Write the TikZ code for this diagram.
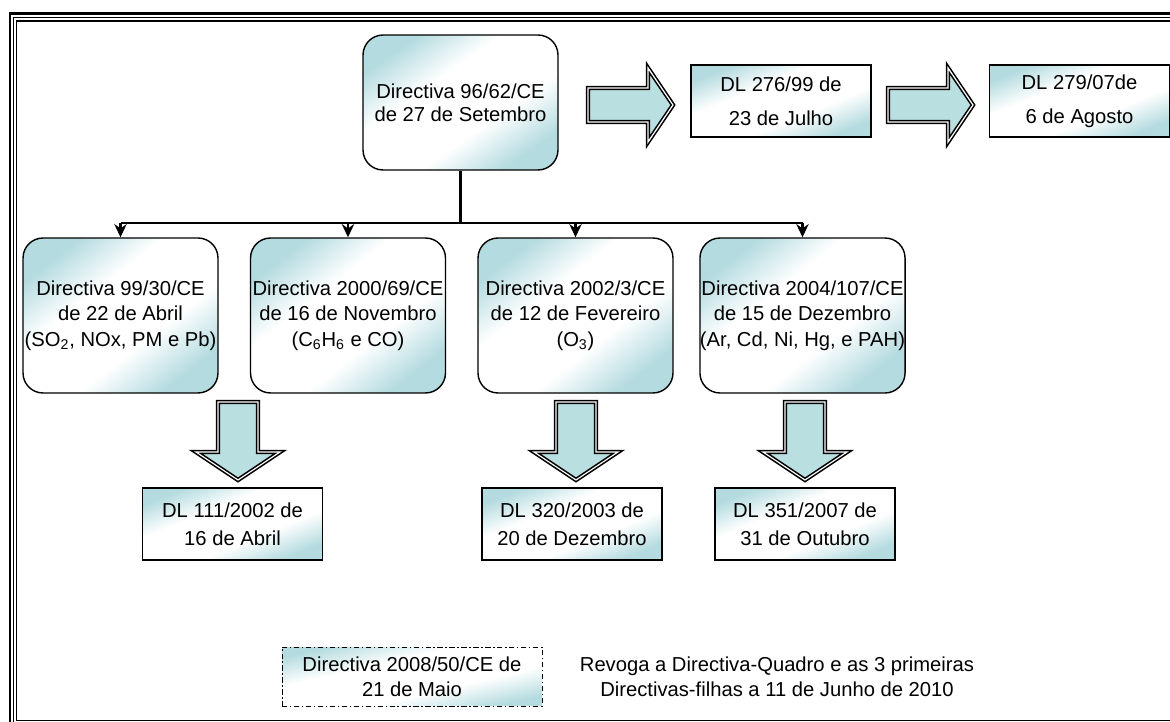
\documentclass[tikz,border=0pt]{standalone}
\usepackage{fontspec}
\setmainfont{Liberation Sans}
\usepackage{xcolor}
\usepackage{tikz}
\usetikzlibrary{positioning, arrows.meta}

\definecolor{boxteal}{RGB}{180,219,223}
\definecolor{arrowteal}{RGB}{186,223,225}
\newcommand{\diagfont}{\fontsize{11.5}{13.2}\selectfont}
\pgfdeclareverticalshading{tealdiag}{100bp}{color(0bp)=(boxteal); color(25bp)=(boxteal); color(40bp)=(white); color(60bp)=(white); color(75bp)=(boxteal); color(100bp)=(boxteal)}

\begin{document}
\begin{tikzpicture}[
    x=0.02cm, y=-0.02cm,
    tealshade/.style={shading=tealdiag, shading angle=#1},
    dirbox/.style={rectangle, rounded corners=0.4cm, draw, line width=0.8pt, align=center, inner sep=0pt, font=\diagfont},
    dlbox/.style={rectangle, draw, line width=0.8pt, tealshade=22, align=center, inner sep=0pt, font=\diagfont, minimum width=3.6cm, minimum height=1.44cm},
    newbox/.style={rectangle, draw, line width=0.5pt, dash pattern=on 3pt off 1.5pt on 0.8pt off 1.5pt, tealshade=13, align=center, inner sep=0pt, font=\diagfont},
    bigarrow/.style={draw, line width=0.9pt, double=white, double distance=0.7pt, fill=arrowteal, line join=miter},
    tree/.style={line width=1.4pt},
    branch/.style={tree, -{Stealth[length=7.5pt, width=7pt]}}
]
\useasboundingbox (0,0) rectangle (1170,722);

% frame
\begin{scope}
\clip (0,0) rectangle (1170,722);
\draw[line width=1.7pt] (10,13.5) rectangle (1190,740);
\draw[line width=0.6pt] (13.5,17.3) rectangle (1186,735);
\draw[line width=1pt] (16.5,21) rectangle (1182,720.5);
\end{scope}

% framework directive and its transpositions
\node[dirbox, tealshade=35, minimum width=3.9cm, minimum height=2.7cm] (dir96) at (460.5,102.5) {Directiva 96/62/CE\\de 27 de Setembro};
\node[dlbox] (dl276) at (781,101) {DL 276/99 de\\[6pt]23 de Julho};
\node[dlbox] (dl279) at (1079.5,101) {DL 279/07de\\[6pt]6 de Agosto};

\draw[bigarrow] (588,88) -- (648,88) -- (648,68) -- (673,105) -- (648,142) -- (648,122) -- (588,122) -- cycle;
\draw[bigarrow] (888,88) -- (948,88) -- (948,68) -- (973,105) -- (948,142) -- (948,122) -- (888,122) -- cycle;

% daughter directives
\node[dirbox, tealshade=38, minimum width=3.9cm, minimum height=3.1cm] (dir99) at (120.5,315.5) {Directiva 99/30/CE\\[1.2pt]de 22 de Abril\\[1.2pt](SO\textsubscript{2}, NOx, PM e Pb)};
\node[dirbox, tealshade=38, minimum width=3.9cm, minimum height=3.1cm] (dir2000) at (348,315.5) {Directiva 2000/69/CE\\[1.2pt]de 16 de Novembro\\[1.2pt](C\textsubscript{6}H\textsubscript{6} e CO)};
\node[dirbox, tealshade=38, minimum width=3.9cm, minimum height=3.1cm] (dir2002) at (575.5,315.5) {Directiva 2002/3/CE\\[1.2pt]de 12 de Fevereiro\\[1.2pt](O\textsubscript{3})};
\node[dirbox, tealshade=38, minimum width=3.9cm, minimum height=3.1cm] (dir2004) at (802.5,315.5) {Directiva 2004/107/CE\\[1.2pt]de 15 de Dezembro\\[1.2pt](Ar, Cd, Ni, Hg, e PAH)};

\coordinate (bar) at (460.5,223);
\draw[tree] (dir96.south) -- (bar);
\draw[tree] (dir99.north |- bar) -- (dir2004.north |- bar);
\draw[branch] (dir99.north |- bar) -- (dir99.north);
\draw[branch] (dir2000.north |- bar) -- (dir2000.north);
\draw[branch] (dir2002.north |- bar) -- (dir2002.north);
\draw[branch] (dir2004.north |- bar) -- (dir2004.north);

% transpositions of the daughter directives
\draw[bigarrow] (218,402) -- (258,402) -- (258,452) -- (280,452) -- (238,480) -- (196,452) -- (218,452) -- cycle;
\draw[bigarrow] (556,402) -- (596,402) -- (596,452) -- (618,452) -- (576,480) -- (534,452) -- (556,452) -- cycle;
\draw[bigarrow] (785,402) -- (825,402) -- (825,452) -- (847,452) -- (805,480) -- (763,452) -- (785,452) -- cycle;

\node[dlbox] (dl111) at (232.5,524) {DL 111/2002 de\\[2.8pt]16 de Abril};
\node[dlbox] (dl320) at (572,524) {DL 320/2003 de\\[2.8pt]20 de Dezembro};
\node[dlbox] (dl351) at (805,524) {DL 351/2007 de\\[2.8pt]31 de Outubro};

% new directive
\node[newbox, minimum width=5.2cm, minimum height=1.18cm] (dir2008) at (412,676.5) {Directiva 2008/50/CE de\\[1pt]21 de Maio};
\node[align=center, inner sep=0pt, font=\diagfont] (revoga) at (777,676.5) {Revoga a Directiva-Quadro e as 3 primeiras\\[1pt]Directivas-filhas a 11 de Junho de 2010};

\end{tikzpicture}
\end{document}
